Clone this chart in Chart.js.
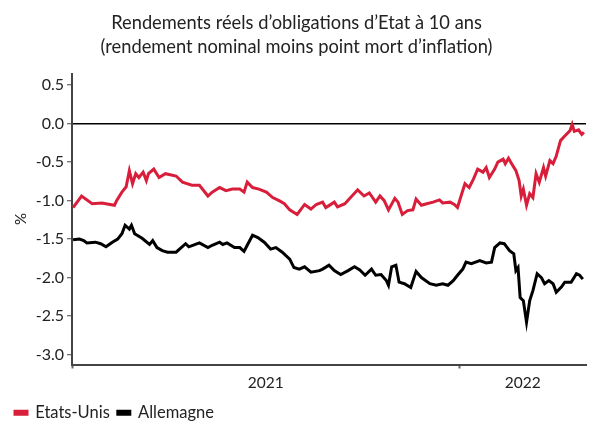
<!DOCTYPE html>
<html><head><meta charset="utf-8">
<script src="https://cdn.jsdelivr.net/npm/chart.js@4/dist/chart.umd.min.js"></script>
<style>html,body{margin:0;padding:0;background:#fff}canvas{display:block}</style>
</head><body>
<canvas id="c" width="591" height="423"></canvas>
<script>
// days since 2021-01-01
const usDays=[1,9,19,28,40,42,47,51,54,57,60,63,67,70,72,77,82,88,98,104,113,120,128,132,139,145,151,158,162,165,170,176,183,189,195,200,205,212,219,225,230,236,239,247,250,257,261,269,275,280,286,290,294,298,304,307,311,316,321,324,329,334,340,346,349,356,360,363,367,370,374,378,382,387,390,393,398,401,406,408,411,414,418,421,423,425,428,431,434,437,440,444,446,450,453,456,460,464,469,471,473,477,480,482];
const usValues=[-1.09,-0.94,-1.04,-1.03,-1.06,-1.0,-0.89,-0.82,-0.61,-0.78,-0.65,-0.70,-0.63,-0.74,-0.65,-0.59,-0.70,-0.65,-0.68,-0.76,-0.80,-0.80,-0.94,-0.89,-0.83,-0.87,-0.85,-0.85,-0.89,-0.76,-0.83,-0.85,-0.89,-0.96,-1.0,-1.04,-1.12,-1.18,-1.05,-1.11,-1.05,-1.02,-1.09,-1.02,-1.08,-1.04,-0.98,-0.86,-0.94,-0.90,-1.02,-0.94,-1.0,-1.12,-0.97,-1.02,-1.18,-1.13,-1.12,-0.98,-1.06,-1.04,-1.02,-0.99,-1.03,-1.02,-1.05,-1.09,-0.91,-0.78,-0.83,-0.72,-0.59,-0.63,-0.57,-0.70,-0.59,-0.50,-0.46,-0.52,-0.45,-0.52,-0.61,-0.74,-0.94,-0.85,-1.06,-0.91,-0.96,-0.65,-0.76,-0.57,-0.68,-0.48,-0.52,-0.42,-0.22,-0.16,-0.09,-0.01,-0.10,-0.08,-0.14,-0.11];
const deDays=[1,7,11,14,22,27,32,38,43,47,50,54,56,59,66,73,76,80,85,90,98,107,110,120,128,132,139,142,146,153,158,162,165,170,175,181,187,192,198,205,209,214,219,225,233,236,242,247,253,260,266,271,276,282,286,291,296,298,301,305,308,313,319,324,329,337,343,349,354,359,363,368,371,376,384,390,395,398,403,407,412,416,418,420,422,425,428,431,434,438,442,445,449,453,456,461,464,470,475,478,481];
const deValues=[-1.51,-1.50,-1.52,-1.55,-1.54,-1.56,-1.60,-1.54,-1.50,-1.43,-1.32,-1.37,-1.32,-1.43,-1.49,-1.57,-1.52,-1.61,-1.65,-1.67,-1.67,-1.56,-1.60,-1.55,-1.61,-1.58,-1.54,-1.57,-1.55,-1.61,-1.61,-1.66,-1.58,-1.45,-1.48,-1.54,-1.63,-1.61,-1.67,-1.76,-1.87,-1.89,-1.86,-1.93,-1.91,-1.89,-1.84,-1.91,-1.96,-1.91,-1.86,-1.90,-1.97,-1.89,-1.97,-1.96,-2.04,-2.10,-1.86,-1.84,-2.06,-2.08,-2.13,-1.92,-2.00,-2.08,-2.10,-2.08,-2.10,-2.04,-1.97,-1.89,-1.80,-1.82,-1.78,-1.81,-1.80,-1.61,-1.55,-1.56,-1.65,-1.69,-1.91,-1.87,-2.26,-2.30,-2.58,-2.30,-2.17,-1.95,-2.00,-2.08,-2.04,-2.08,-2.19,-2.12,-2.06,-2.06,-1.95,-1.97,-2.02];
const seriesNames=['Etats-Unis','Allemagne'];
const yTicks=[0.5,0,-0.5,-1,-1.5,-2,-2.5,-3];
const xTickDays=[0,182.5,365,424.5];
const xTickLabels=['','2021','','2022'];
const titleLines=['Rendements réels d’obligations d’Etat à 10 ans','(rendement nominal moins point mort d’inflation)'];

Chart.defaults.font.family='Lato, "Open Sans", sans-serif';
Chart.defaults.color='#222';

const pts=(xs,ys)=>xs.map((x,i)=>({x:x,y:ys[i]}));

new Chart(document.getElementById('c'),{
  type:'line',
  data:{datasets:[
    {label:seriesNames[0],data:pts(usDays,usValues),borderColor:'#d81e3a',backgroundColor:'#d81e3a',borderWidth:3,pointRadius:0,tension:0},
    {label:seriesNames[1],data:pts(deDays,deValues),borderColor:'#000',backgroundColor:'#000',borderWidth:3,pointRadius:0,tension:0}
  ]},
  options:{
    responsive:false,animation:false,
    layout:{padding:{left:7,right:5,top:0,bottom:-8}},
    plugins:{
      title:{display:true,text:titleLines,font:{size:18.3,weight:'normal',lineHeight:1.33},color:'#222',padding:{top:11,bottom:14}},
      legend:{position:'bottom',align:'start',labels:{boxWidth:12,boxHeight:3,font:{size:16.5},color:'#222',padding:8}},
      tooltip:{enabled:false}
    },
    scales:{
      x:{type:'linear',min:0,max:484,
        afterBuildTicks:s=>{s.ticks=xTickDays.map(v=>({value:v}));},
        afterFit:s=>{s.height=32;},
        ticks:{autoSkip:false,maxRotation:0,padding:5,font:{size:15.5},color:'#222',callback:(v,i)=>xTickLabels[i]},
        grid:{drawOnChartArea:false,tickLength:4,tickColor:c=>(c.index%2===0?'#666':'rgba(0,0,0,0)'),tickWidth:2},
        border:{color:'#444',width:2}
      },
      y:{min:-3.13,max:0.65,
        afterBuildTicks:s=>{s.ticks=yTicks.map(v=>({value:v}));},
        afterFit:s=>{s.width=65;},
        ticks:{padding:3,font:{size:16},color:'#222',callback:v=>Number(v).toFixed(1)},
        grid:{color:c=>(c.tick&&c.tick.value===0?'#000':'rgba(0,0,0,0)'),lineWidth:1.5,tickLength:5,tickColor:'#444',tickWidth:1},
        border:{color:'#444',width:2},
        title:{display:true,text:'%',font:{size:15},color:'#222',padding:{top:5,bottom:0}}
      }
    }
  }
});
</script>
</body></html>
